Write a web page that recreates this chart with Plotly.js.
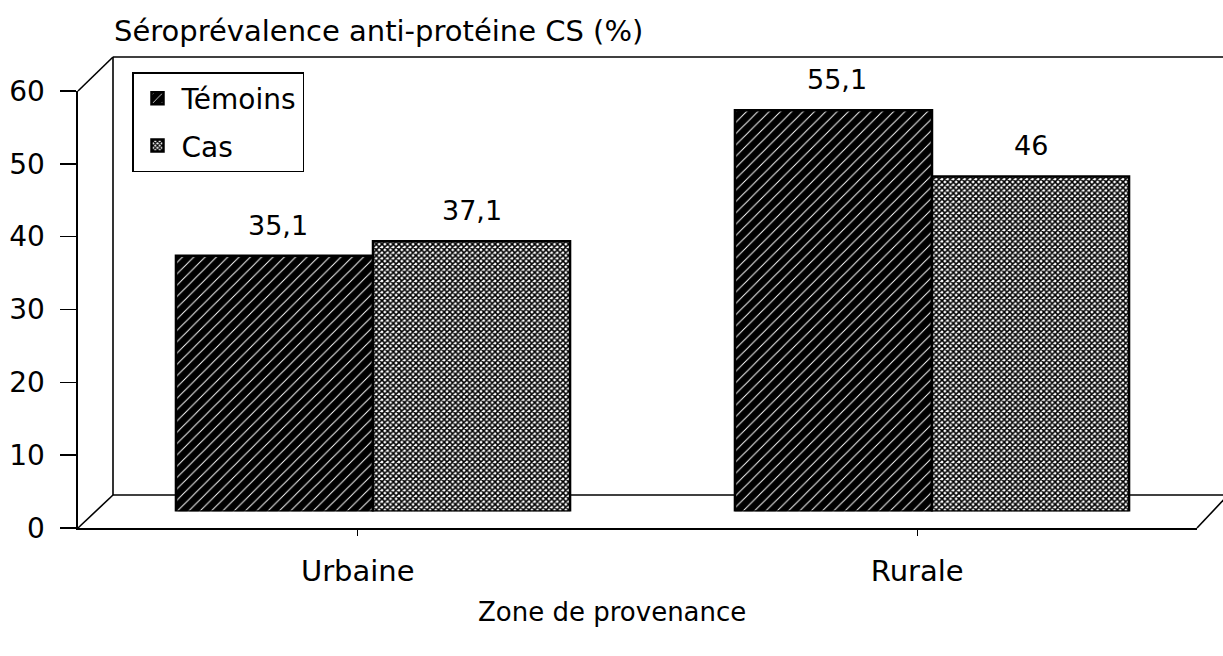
<!DOCTYPE html>
<html>
<head>
<meta charset="utf-8">
<script src="https://cdn.plot.ly/plotly-3.0.1.min.js"></script>
<style>html,body{margin:0;padding:0;background:#fff;}#chart{width:1223px;height:656px;}</style>
</head>
<body>
<div id="chart"></div>
<script>
// ---- data ----
const categories = ["Urbaine", "Rurale"];
const seriesNames = ["Témoins", "Cas"];
const temoins = [35.1, 55.1];
const cas = [37.1, 46];
const yTicks = [0, 10, 20, 30, 40, 50, 60];
const chartTitle = "Séroprévalence anti-protéine CS (%)";
const xTitle = "Zone de provenance";

// ---- helpers (layout only) ----
const W = 1223, H = 656;
const px = x => x / W;
const py = y => 1 - y / H;
const FONT = "DejaVu Sans, Liberation Sans, Arial, sans-serif";
const fmt = v => String(v).replace('.', ',');

const traces = [
  {
    type: 'bar', name: seriesNames[0], x: categories, y: temoins,
    xaxis: 'x', yaxis: 'y', legendgroup: 'a',
    marker: {
      color: '#000',
      line: {color: '#000', width: 2.5},
      pattern: {shape: '/', fgcolor: '#ffffff', bgcolor: '#000000', size: 8, solidity: 0.12, fillmode: 'replace'}
    },
    hoverinfo: 'skip'
  },
  {
    type: 'bar', name: seriesNames[1], x: categories, y: cas,
    xaxis: 'x', yaxis: 'y', legendgroup: 'b',
    marker: {
      color: '#fff',
      line: {color: '#000', width: 2.5},
      pattern: {shape: 'x', fgcolor: '#000000', bgcolor: '#ffffff', size: 4, solidity: 0.62, fillmode: 'replace'}
    },
    hoverinfo: 'skip'
  },
  // invisible trace carrying the front axes
  {
    type: 'scatter', x: categories, y: [0, 0], xaxis: 'x2', yaxis: 'y2',
    mode: 'markers', marker: {opacity: 0}, showlegend: false, hoverinfo: 'skip'
  }
];

// value labels placed at each bar through the axes
const annotations = [];
const halfBar = 98.5;
categories.forEach((c, i) => {
  annotations.push({xref: 'x', yref: 'y', x: c, y: temoins[i], xshift: -halfBar + 3, yshift: 13,
    yanchor: 'bottom', text: fmt(temoins[i]), showarrow: false, font: {family: FONT, size: 27, color: '#000'}});
  annotations.push({xref: 'x', yref: 'y', x: c, y: cas[i], xshift: halfBar, yshift: 13,
    yanchor: 'bottom', text: fmt(cas[i]), showarrow: false, font: {family: FONT, size: 27, color: '#000'}});
});
annotations.push({xref: 'paper', yref: 'paper', x: px(112), y: py(31), xanchor: 'left', yanchor: 'middle',
  text: chartTitle, showarrow: false, font: {family: FONT, size: 29, color: '#000'}});
annotations.push({xref: 'paper', yref: 'paper', x: px(612), y: py(612), xanchor: 'center', yanchor: 'middle',
  text: xTitle, showarrow: false, font: {family: FONT, size: 26, color: '#000'}});

const L = (x0, y0, x1, y1) => ({type: 'line', xref: 'paper', yref: 'paper',
  x0: px(x0), y0: py(y0), x1: px(x1), y1: py(y1), line: {color: '#000', width: 1.6}, layer: 'below'});

const shapes = [
  L(113, 57, 113, 495),   // back wall left edge
  L(113, 57, 1223, 57),   // back wall top edge
  L(78, 91, 113, 57),     // left wall top diagonal
  L(78, 528, 113, 495),   // floor left diagonal
  L(113, 495, 1223, 495), // floor back edge
  L(1197, 528, 1230, 493) // floor right diagonal
];

const layout = {
  width: W, height: H,
  margin: {l: 0, r: 0, t: 0, b: 0, pad: 0},
  paper_bgcolor: '#fff', plot_bgcolor: 'rgba(0,0,0,0)',
  barmode: 'group', bargap: 0.295, bargroupgap: 0,
  font: {family: FONT, color: '#000'},
  showlegend: true,
  legend: {
    x: px(132), y: py(72), xanchor: 'left', yanchor: 'top',
    bgcolor: '#fff', bordercolor: '#000', borderwidth: 1.5,
    font: {family: FONT, size: 28, color: '#000'},
    tracegroupgap: 8, itemwidth: 38, traceorder: 'grouped'
  },
  xaxis: {
    domain: [px(93.5), px(1211.5)], anchor: 'y', type: 'category', range: [-0.5, 1.5],
    showticklabels: false, showline: false, showgrid: false, zeroline: false, ticks: ''
  },
  yaxis: {
    domain: [py(511.5), py(74.5)], anchor: 'x', range: [0, 60],
    showticklabels: false, showline: false, showgrid: false, zeroline: false, ticks: ''
  },
  xaxis2: {
    domain: [px(78), px(1197)], anchor: 'y2', type: 'category', range: [-0.5, 1.5],
    showline: true, linecolor: '#000', linewidth: 1.6,
    ticks: 'outside', ticklen: 6, tickcolor: '#000', tickwidth: 1.2,
    showgrid: false, zeroline: false,
    tickfont: {family: FONT, size: 29, color: '#000'}, ticklabelstandoff: 11
  },
  yaxis2: {
    domain: [py(528), py(91)], anchor: 'x2', range: [0, 60],
    tickvals: yTicks, ticktext: yTicks.map(String),
    showline: true, linecolor: '#000', linewidth: 1.6,
    ticks: 'outside', ticklen: 16, tickcolor: '#000', tickwidth: 1.6,
    showgrid: false, zeroline: false,
    tickfont: {family: FONT, size: 28, color: '#000'}, ticklabelstandoff: 10
  },
  shapes: shapes,
  annotations: annotations
};

Plotly.newPlot('chart', traces, layout, {displayModeBar: false, staticPlot: true});
</script>
</body>
</html>
